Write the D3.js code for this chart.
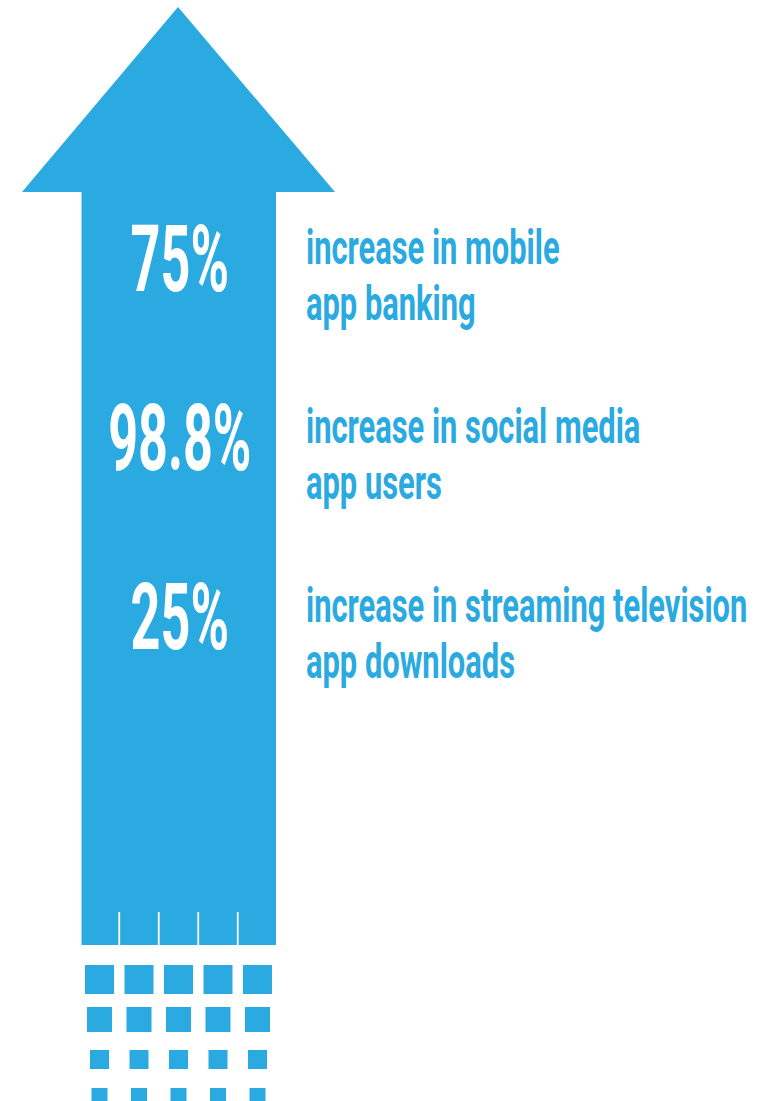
<!DOCTYPE html>
<html>
<head>
<meta charset="utf-8">
<script src="https://cdn.jsdelivr.net/npm/d3@7"></script>
<style>
  html, body { margin: 0; padding: 0; background: #fff; }
  svg { display: block; }
</style>
</head>
<body>
<div id="chart"></div>
<script>
const width = 771;
const height = 1101;
const blue = "#2aaae0";

// figures and their captions, top to bottom
const percents = ["75%", "98.8%", "25%"];
const captions = [
  ["increase in mobile", "app banking"],
  ["increase in social media", "app users"],
  ["increase in streaming television", "app downloads"]
];

// the trail of squares under the arrow
const trailColumns = [0, 1, 2, 3, 4];
const trailRows = [0, 1, 2, 3];

const svg = d3.select("#chart")
  .append("svg")
  .attr("width", width)
  .attr("height", height);

// arrow geometry
const tipX = 178, tipY = 7;
const headY = 192, headLeft = 22, headRight = 335;
const shaftLeft = 81.5, shaftRight = 276, shaftBottom = 945;

const arrow = d3.path();
arrow.moveTo(tipX, tipY);
arrow.lineTo(headRight, headY);
arrow.lineTo(shaftRight, headY);
arrow.lineTo(shaftRight, shaftBottom);
arrow.lineTo(shaftLeft, shaftBottom);
arrow.lineTo(shaftLeft, headY);
arrow.lineTo(headLeft, headY);
arrow.closePath();

svg.append("path")
  .attr("d", arrow.toString())
  .attr("fill", blue);

// columns shared by the slits and the squares
const col = d3.scalePoint()
  .domain(trailColumns)
  .range([99.5, 257.5]);

// thin cuts at the bottom of the shaft
svg.selectAll(".slit")
  .data(trailColumns.slice(1))
  .enter()
  .append("line")
  .attr("class", "slit")
  .attr("x1", d => (col(d - 1) + col(d)) / 2)
  .attr("x2", d => (col(d - 1) + col(d)) / 2)
  .attr("y1", 912)
  .attr("y2", shaftBottom + 1)
  .attr("stroke", "#fff")
  .attr("stroke-width", 1.8);

// squares shrink row by row
const rowTop = d3.scaleOrdinal().domain(trailRows).range([965, 1007, 1050, 1088]);
const rowSize = d3.scaleOrdinal().domain(trailRows).range([29, 25, 19, 16]);

const cells = [];
trailRows.forEach(r => trailColumns.forEach(c => cells.push({ r, c })));

svg.selectAll(".cell")
  .data(cells)
  .enter()
  .append("rect")
  .attr("class", "cell")
  .attr("x", d => col(d.c) - rowSize(d.r) / 2)
  .attr("y", d => rowTop(d.r))
  .attr("width", d => rowSize(d.r))
  .attr("height", d => rowSize(d.r))
  .attr("fill", blue);

// rows of text
const rowY = d3.scalePoint()
  .domain(d3.range(percents.length))
  .range([292, 650]);

const font = "Roboto, 'DejaVu Sans', sans-serif";
const pctSquash = 0.56;
const capSquash = 0.63;

svg.selectAll(".pct")
  .data(percents)
  .enter()
  .append("text")
  .attr("class", "pct")
  .attr("transform", (d, i) => `translate(${(shaftLeft + shaftRight) / 2 + 1},${rowY(i) - 1}) scale(${pctSquash},1)`)
  .attr("text-anchor", "middle")
  .attr("font-family", font)
  .attr("font-weight", 700)
  .attr("font-size", 93)
  .attr("fill", "#fff")
  .text(d => d);

const cap = svg.selectAll(".cap")
  .data(captions)
  .enter()
  .append("g")
  .attr("class", "cap")
  .attr("transform", (d, i) => `translate(306,${rowY(i) - 28})`);

cap.selectAll("text")
  .data(d => d)
  .enter()
  .append("text")
  .attr("transform", (d, j) => `translate(0,${j * 56}) scale(${capSquash},1)`)
  .attr("font-family", font)
  .attr("font-weight", 700)
  .attr("font-size", 49)
  .attr("fill", blue)
  .text(d => d);
</script>
</body>
</html>
